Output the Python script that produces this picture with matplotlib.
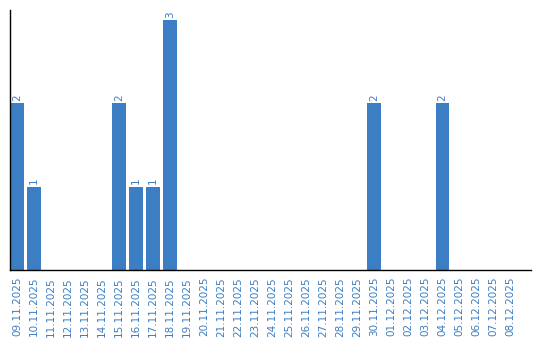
import numpy as np
import matplotlib.pyplot as plt

dates = ['09.11.2025', '10.11.2025', '11.11.2025', '12.11.2025', '13.11.2025',
         '14.11.2025', '15.11.2025', '16.11.2025', '17.11.2025', '18.11.2025',
         '19.11.2025', '20.11.2025', '21.11.2025', '22.11.2025', '23.11.2025',
         '24.11.2025', '25.11.2025', '26.11.2025', '27.11.2025', '28.11.2025',
         '29.11.2025', '30.11.2025', '01.12.2025', '02.12.2025', '03.12.2025',
         '04.12.2025', '05.12.2025', '06.12.2025', '07.12.2025', '08.12.2025']
counts = [2, 1, 0, 0, 0, 0, 2, 1, 1, 3,
          0, 0, 0, 0, 0, 0, 0, 0, 0, 0,
          0, 2, 0, 0, 0, 2, 0, 0, 0, 0]

blue = '#3b7ec3'

fig = plt.figure(figsize=(5.4, 3.4), dpi=100)
ax = fig.add_axes([10/540, 70/340, 521/540, 260/340])

x = np.arange(len(dates))
ax.bar(x, counts, width=0.82, color=blue)
for xi, v in zip(x, counts):
    if v > 0:
        ax.text(xi, v + 0.03, str(v), rotation=90, ha='center', va='bottom',
                color=blue, fontsize=7.5)

ax.set_xlim(-0.42, 30.2)
ax.set_ylim(0, 3.12)
ax.set_xticks(x)
ax.set_xticklabels(dates, rotation=90, color=blue, fontsize=7.5)
ax.tick_params(axis='x', length=0, pad=5)
ax.set_yticks([])
for s in ['top', 'right']:
    ax.spines[s].set_visible(False)
ax.spines['left'].set_linewidth(1.0)
ax.spines['bottom'].set_linewidth(1.0)

fig.savefig('out.png', dpi=100)
